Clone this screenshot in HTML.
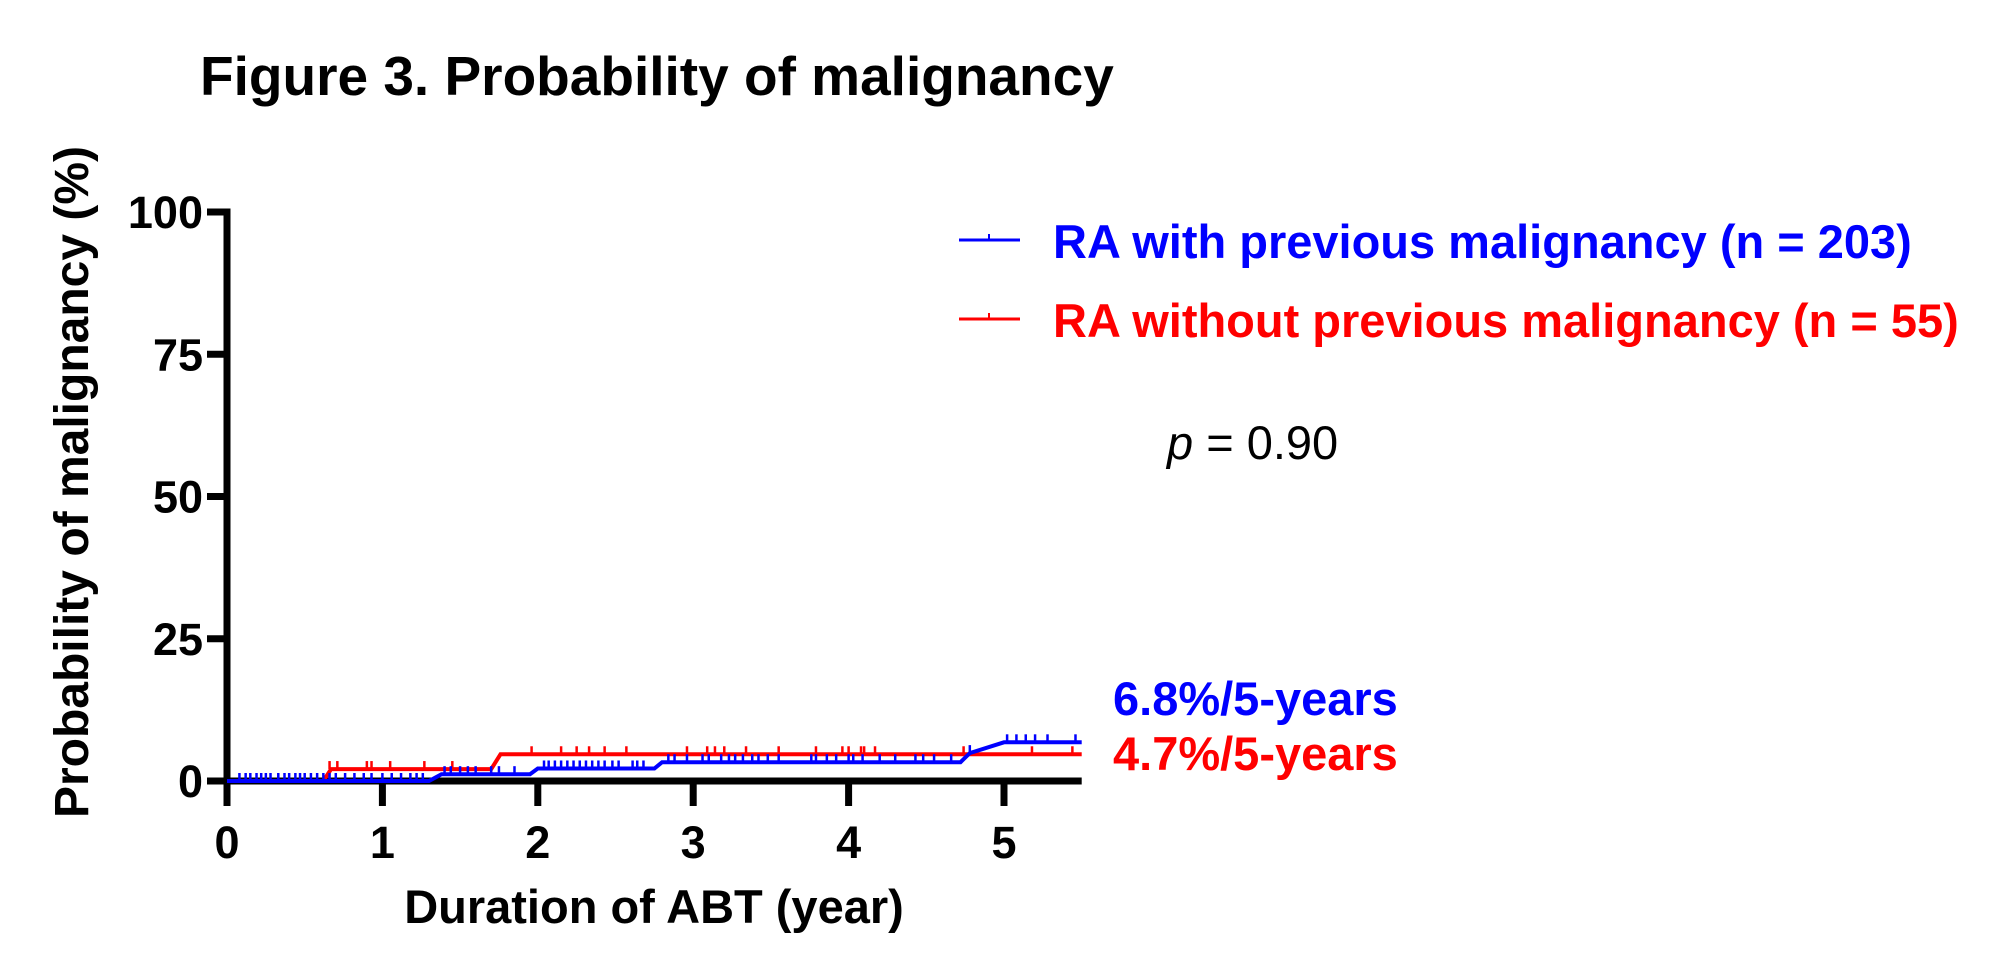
<!DOCTYPE html>
<html><head><meta charset="utf-8"><style>
html,body{margin:0;padding:0;background:#fff;width:2000px;height:973px;overflow:hidden}
svg{display:block;font-family:"Liberation Sans",Arial,sans-serif}
</style></head><body>
<svg id="chart" width="2000" height="973" viewBox="0 0 2000 973">
<text x="200" y="95" font-size="55" font-weight="bold" fill="#000">Figure 3. Probability of malignancy</text>
<g id="axes"></g>
<g id="series"></g>
<text transform="translate(88,482) rotate(-90)" text-anchor="middle" font-size="48" font-weight="bold">Probability of malignancy (%)</text>
<text x="654" y="923" text-anchor="middle" font-size="47" font-weight="bold">Duration of ABT (year)</text>
<g>
<g><line x1="959" y1="240" x2="1020" y2="240" stroke="#0000ff" stroke-width="3"/><line x1="989" y1="240" x2="989" y2="234" stroke="#0000ff" stroke-width="2"/>
<text x="1053" y="258" font-size="47" font-weight="bold" fill="#0000ff">RA with previous malignancy (n = 203)</text></g>
<g><line x1="959" y1="319" x2="1020" y2="319" stroke="#ff0000" stroke-width="3"/><line x1="989" y1="319" x2="989" y2="313" stroke="#ff0000" stroke-width="2"/>
<text x="1053" y="337" font-size="47" font-weight="bold" fill="#ff0000">RA without previous malignancy (n = 55)</text></g>
</g>
<text x="1167" y="459" font-size="47" fill="#000"><tspan font-style="italic">p</tspan> = 0.90</text>
<text x="1113" y="715" font-size="47" font-weight="bold" fill="#0000ff">6.8%/5-years</text>
<text x="1113" y="770" font-size="47" font-weight="bold" fill="#ff0000">4.7%/5-years</text>
</svg>
<script>
const xTicks=[0,1,2,3,4,5];
const yTicks=[0,25,50,75,100];
const blueX=[0,1.30,1.38,1.95,2.00,2.75,2.80,4.72,4.78,5.00,5.5];
const blueY=[0,0,1.2,1.2,2.2,2.2,3.3,3.3,4.9,6.8,6.8];
const redX=[0,0.62,0.67,1.70,1.76,5.5];
const redY=[0,0,2.1,2.1,4.7,4.7];
const blueCensor=[0.08,0.12,0.15,0.19,0.22,0.25,0.28,0.33,0.37,0.40,0.44,0.47,0.50,0.54,0.58,0.62,0.66,0.70,0.76,0.82,0.88,0.93,1.00,1.06,1.12,1.18,1.22,1.26,1.40,1.44,1.50,1.55,1.60,1.70,1.75,1.85,2.04,2.07,2.11,2.15,2.19,2.23,2.27,2.31,2.35,2.39,2.43,2.48,2.52,2.61,2.64,2.68,2.84,2.88,2.96,3.06,3.10,3.18,3.23,3.27,3.32,3.38,3.42,3.48,3.55,3.76,3.79,3.86,3.92,4.00,4.03,4.09,4.20,4.30,4.43,4.48,4.55,4.66,4.78,5.02,5.08,5.14,5.20,5.28,5.46];
const blueCensorY=[0,0,0,0,0,0,0,0,0,0,0,0,0,0,0,0,0,0,0,0,0,0,0,0,0,0,0,0,1.2,1.2,1.2,1.2,1.2,1.2,1.2,1.2,2.2,2.2,2.2,2.2,2.2,2.2,2.2,2.2,2.2,2.2,2.2,2.2,2.2,2.2,2.2,2.2,3.3,3.3,3.3,3.3,3.3,3.3,3.3,3.3,3.3,3.3,3.3,3.3,3.3,3.3,3.3,3.3,3.3,3.3,3.3,3.3,3.3,3.3,3.3,3.3,3.3,3.3,4.9,6.8,6.8,6.8,6.8,6.8,6.8];
const redCensor=[0.66,0.71,0.90,0.93,1.05,1.27,1.45,1.96,2.15,2.25,2.33,2.43,2.57,2.96,3.09,3.14,3.20,3.34,3.55,3.79,3.96,4.00,4.08,4.10,4.17,4.74,5.18,5.44];
const redCensorY=[2.1,2.1,2.1,2.1,2.1,2.1,2.1,4.7,4.7,4.7,4.7,4.7,4.7,4.7,4.7,4.7,4.7,4.7,4.7,4.7,4.7,4.7,4.7,4.7,4.7,4.7,4.7,4.7];

const X0=227,PX=155.4,Y0=781,PY=(781-212)/100;
const sx=v=>X0+v*PX, sy=v=>Y0-v*PY;
const NS="http://www.w3.org/2000/svg";
function mk(tag,attrs,parent){const e=document.createElementNS(NS,tag);for(const k in attrs)e.setAttribute(k,attrs[k]);parent.appendChild(e);return e;}
const axes=document.getElementById('axes'), series=document.getElementById('series');

function drawSeries(xs,ys,cx,cy,color,name){
  let d=xs.map((x,i)=>(i?'L':'M')+sx(x).toFixed(1)+','+sy(ys[i]).toFixed(1)).join(' ');
  const p=mk('path',{d:d,fill:'none',stroke:color,'stroke-width':4},series);
  
  
  cx.forEach((x,i)=>{
    const l=mk('line',{x1:sx(x),x2:sx(x),y1:sy(cy[i]),y2:sy(cy[i])-8,stroke:color,'stroke-width':2.5},series);
    
    
  });
}
drawSeries(redX,redY,redCensor,redCensorY,'#ff0000','without-malignancy');
drawSeries(blueX,blueY,blueCensor,blueCensorY,'#0000ff','with-malignancy');

let a=mk('line',{x1:X0,x2:X0,y1:sy(100)-3.5,y2:Y0+25,stroke:'#000','stroke-width':7},axes);


a=mk('line',{x1:X0-20,x2:sx(5.5),y1:Y0,y2:Y0,stroke:'#000','stroke-width':7},axes);


yTicks.forEach(v=>{
  const t=mk('line',{x1:X0-20,x2:X0,y1:sy(v),y2:sy(v),stroke:'#000','stroke-width':7},axes);
  
  
  const tx=mk('text',{x:X0-24,y:sy(v)+16,'text-anchor':'end','font-size':45,'font-weight':'bold'},axes);
  tx.textContent=v;
  
  
});
xTicks.forEach(v=>{
  const t=mk('line',{x1:sx(v),x2:sx(v),y1:Y0,y2:Y0+25,stroke:'#000','stroke-width':7},axes);
  
  
  const tx=mk('text',{x:sx(v),y:Y0+77,'text-anchor':'middle','font-size':45,'font-weight':'bold'},axes);
  tx.textContent=v;
  
  
});
</script>
</body></html>
